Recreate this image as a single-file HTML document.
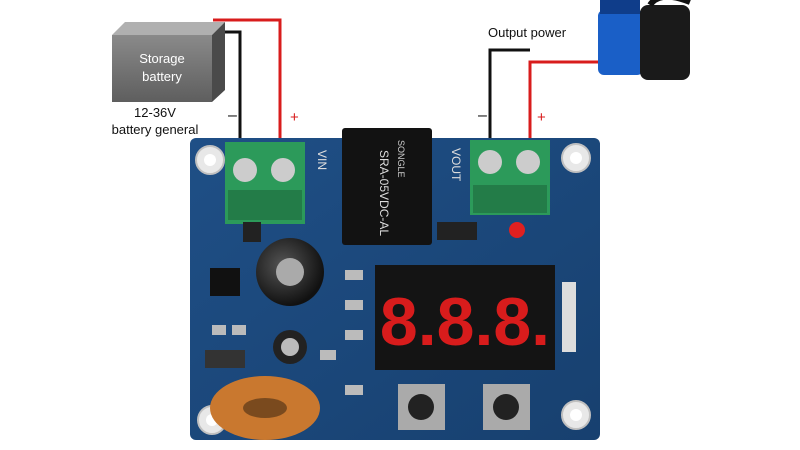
<!DOCTYPE html>
<html><head><meta charset="utf-8"><style>
html,body{margin:0;padding:0;background:#fff;width:800px;height:450px;overflow:hidden}
svg{display:block}
text{font-family:"Liberation Sans",sans-serif}
</style></head><body>
<svg width="800" height="450" viewBox="0 0 800 450">
<defs>
<linearGradient id="pcb" x1="0" y1="0" x2="1" y2="1"><stop offset="0" stop-color="#1f4f86"/><stop offset="1" stop-color="#17406f"/></linearGradient>
<linearGradient id="bat" x1="0" y1="0" x2="0" y2="1"><stop offset="0" stop-color="#8a8a8a"/><stop offset="1" stop-color="#5e5e5e"/></linearGradient>
<radialGradient id="cap" cx="0.4" cy="0.4" r="0.6"><stop offset="0" stop-color="#555"/><stop offset="1" stop-color="#111"/></radialGradient>
</defs>
<!-- wires -->
<polyline points="213,20 280,20 280,142" fill="none" stroke="#d81c1c" stroke-width="3"/>
<polyline points="222,32 240,32 240,142" fill="none" stroke="#111" stroke-width="3"/>
<polyline points="530,50 490,50 490,142" fill="none" stroke="#111" stroke-width="3"/>
<polyline points="600,62 530,62 530,142" fill="none" stroke="#d81c1c" stroke-width="3"/>
<!-- battery -->
<polygon points="112,35 125,22 225,22 212,35" fill="#b0b0b0"/>
<polygon points="212,35 225,22 225,90 212,102" fill="#4a4a4a"/>
<rect x="112" y="35" width="100" height="67" fill="url(#bat)"/>
<text x="162" y="63" font-size="13" fill="#fff" text-anchor="middle">Storage</text>
<text x="162" y="81" font-size="13" fill="#fff" text-anchor="middle">battery</text>
<text x="155" y="117" font-size="13" fill="#111" text-anchor="middle">12-36V</text>
<text x="155" y="134" font-size="13" fill="#111" text-anchor="middle">battery general</text>
<text x="228" y="120" font-size="16" fill="#111">–</text>
<text x="290" y="122" font-size="15" fill="#d81c1c">+</text>
<text x="488" y="37" font-size="13" fill="#111">Output power</text>
<text x="478" y="120" font-size="16" fill="#111">–</text>
<text x="537" y="122" font-size="15" fill="#d81c1c">+</text>
<!-- pump -->
<rect x="598" y="10" width="45" height="65" rx="6" fill="#1a5fc7"/>
<rect x="640" y="5" width="50" height="75" rx="8" fill="#1a1a1a"/>
<rect x="600" y="0" width="40" height="14" fill="#0f3d8a"/>
<path d="M650,5 Q660,-10 690,2" stroke="#111" stroke-width="6" fill="none"/>
<!-- PCB -->
<rect x="190" y="138" width="410" height="302" rx="6" fill="url(#pcb)"/>
<g fill="#e8e8e8" stroke="#c0c0c0" stroke-width="2">
<circle cx="210" cy="160" r="14"/><circle cx="576" cy="158" r="14"/><circle cx="212" cy="420" r="14"/><circle cx="576" cy="415" r="14"/></g>
<g fill="#fff"><circle cx="210" cy="160" r="6"/><circle cx="576" cy="158" r="6"/><circle cx="212" cy="420" r="6"/><circle cx="576" cy="415" r="6"/></g>
<!-- terminals -->
<rect x="225" y="142" width="80" height="82" fill="#2c9a5a"/>
<rect x="228" y="190" width="74" height="30" fill="#237c48"/>
<circle cx="245" cy="170" r="12" fill="#ccc"/><circle cx="283" cy="170" r="12" fill="#ccc"/>
<rect x="470" y="140" width="80" height="75" fill="#2c9a5a"/>
<rect x="473" y="185" width="74" height="28" fill="#237c48"/>
<circle cx="490" cy="162" r="12" fill="#ccc"/><circle cx="528" cy="162" r="12" fill="#ccc"/>
<text x="318" y="150" font-size="12" fill="#ddd" transform="rotate(90 318 150)">VIN</text>
<text x="452" y="148" font-size="12" fill="#ddd" transform="rotate(90 452 148)">VOUT</text>
<!-- relay -->
<rect x="342" y="128" width="90" height="117" rx="3" fill="#121212"/>
<text x="380" y="150" font-size="12" fill="#ddd" transform="rotate(90 380 150)">SRA-05VDC-AL</text>
<text x="398" y="140" font-size="9" fill="#ccc" transform="rotate(90 398 140)">SONGLE</text>
<!-- capacitors -->
<circle cx="290" cy="272" r="34" fill="url(#cap)"/>
<circle cx="290" cy="272" r="14" fill="#aaa"/>
<circle cx="290" cy="347" r="17" fill="#222"/><circle cx="290" cy="347" r="9" fill="#bbb"/>
<!-- chips -->
<rect x="210" y="268" width="30" height="28" fill="#111"/>
<rect x="205" y="350" width="40" height="18" fill="#333"/>
<rect x="243" y="222" width="18" height="20" fill="#222"/>
<rect x="437" y="222" width="40" height="18" fill="#222"/>
<circle cx="517" cy="230" r="8" fill="#e02020"/>
<!-- inductor -->
<ellipse cx="265" cy="408" rx="55" ry="32" fill="#c9782f"/>
<ellipse cx="265" cy="408" rx="22" ry="10" fill="#7a4a1e"/>
<!-- display -->
<rect x="375" y="265" width="180" height="105" fill="#141414"/>
<text x="465" y="345" font-size="68" font-family="Liberation Mono" fill="#d81c1c" text-anchor="middle" font-weight="bold">8.8.8.</text>
<!-- header -->
<rect x="562" y="282" width="14" height="70" fill="#ddd"/>
<!-- buttons -->
<rect x="398" y="384" width="47" height="46" fill="#aaa"/><circle cx="421" cy="407" r="13" fill="#222"/>
<rect x="483" y="384" width="47" height="46" fill="#aaa"/><circle cx="506" cy="407" r="13" fill="#222"/>
<g fill="#bbb"><rect x="345" y="270" width="18" height="10"/><rect x="345" y="300" width="18" height="10"/><rect x="345" y="330" width="18" height="10"/><rect x="345" y="385" width="18" height="10"/><rect x="320" y="350" width="16" height="10"/><rect x="212" y="325" width="14" height="10"/><rect x="232" y="325" width="14" height="10"/></g>
</svg>
</body></html>
